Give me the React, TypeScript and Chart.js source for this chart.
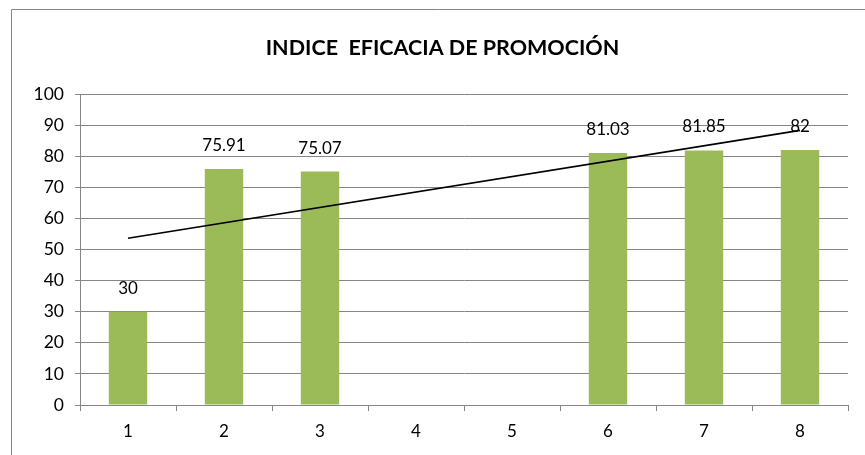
import React, { useEffect, useRef } from "react";
import { Chart, registerables } from "chart.js";

Chart.register(...registerables);

const categories = ["1", "2", "3", "4", "5", "6", "7", "8"];
const values: (number | null)[] = [30, 75.91, 75.07, null, null, 81.03, 81.85, 82];
const trend: (number | null)[] = [53.6, null, null, null, null, null, null, 88.3];
const yTicks = [0, 10, 20, 30, 40, 50, 60, 70, 80, 90, 100];
const title = "INDICE  EFICACIA DE PROMOCIÓN";

const FONT = "Lato, 'Open Sans', sans-serif";

const decorPlugin = {
  id: "decor",
  beforeDraw(chart: any) {
    const ctx = chart.ctx;
    ctx.save();
    ctx.fillStyle = "#ffffff";
    ctx.fillRect(0, 0, chart.width, chart.height);
    ctx.strokeStyle = "#868686";
    ctx.lineWidth = 1;
    ctx.beginPath();
    ctx.moveTo(11.5, chart.height + 5);
    ctx.lineTo(11.5, 9.5);
    ctx.lineTo(chart.width + 5, 9.5);
    ctx.stroke();
    ctx.fillStyle = "#000000";
    ctx.font = `bold 21.5px ${FONT}`;
    ctx.textAlign = "center";
    ctx.textBaseline = "alphabetic";
    ctx.fillText(title, 442.5, 55);
    ctx.restore();
  },
  afterDatasetsDraw(chart: any) {
    const ctx = chart.ctx;
    const meta = chart.getDatasetMeta(0);
    ctx.save();
    ctx.fillStyle = "#000000";
    ctx.font = `17px ${FONT}`;
    ctx.textAlign = "center";
    ctx.textBaseline = "alphabetic";
    meta.data.forEach((el: any, i: number) => {
      const v = values[i];
      if (v === null || v === undefined) return;
      ctx.fillText(String(v), el.x, el.y - 18);
    });
    ctx.restore();
  },
};

export default function App() {
  const ref = useRef<HTMLCanvasElement | null>(null);
  useEffect(() => {
    if (!ref.current) return;
    const chart = new Chart(ref.current, {
      type: "bar",
      data: {
        labels: categories,
        datasets: [
          {
            type: "bar",
            data: values,
            backgroundColor: "#9BBB59",
            borderWidth: 0,
            categoryPercentage: 1,
            barPercentage: 0.4,
            order: 2,
          } as any,
          {
            type: "line",
            data: trend,
            borderColor: "#000000",
            borderWidth: 1.6,
            pointRadius: 0,
            spanGaps: true,
            fill: false,
            order: 1,
          } as any,
        ],
      },
      options: {
        animation: false,
        responsive: false,
        devicePixelRatio: 1,
        layout: { padding: { left: 0, right: 17, top: 94, bottom: 0 } },
        plugins: {
          legend: { display: false },
          title: { display: false },
          tooltip: { enabled: false },
        },
        scales: {
          x: {
            grid: {
              display: true,
              drawOnChartArea: false,
              drawTicks: true,
              tickLength: 6,
              color: "#868686",
              offset: true,
            },
            border: { display: true, color: "#868686", width: 1 },
            ticks: {
              color: "#000000",
              font: { family: FONT, size: 17 },
              padding: 10,
              maxRotation: 0,
            },
            afterFit(scale: any) {
              scale.height = 50;
            },
          },
          y: {
            min: 0,
            max: 100,
            afterBuildTicks(scale: any) {
              scale.ticks = yTicks.map((v) => ({ value: v }));
            },
            grid: {
              color: "#868686",
              lineWidth: 1,
              drawTicks: true,
              tickLength: 5,
            },
            border: { display: true, color: "#868686", width: 1 },
            ticks: {
              color: "#000000",
              font: { family: FONT, size: 17.5 },
              padding: 11,
            },
            afterFit(scale: any) {
              scale.width = 80;
            },
          },
        },
      },
      plugins: [decorPlugin],
    } as any);
    return () => chart.destroy();
  }, []);
  return (
    <div style={{ position: "absolute", left: 0, top: 0, width: 865, height: 455 }}>
      <canvas ref={ref} width={865} height={455} style={{ width: 865, height: 455 }} />
    </div>
  );
}
